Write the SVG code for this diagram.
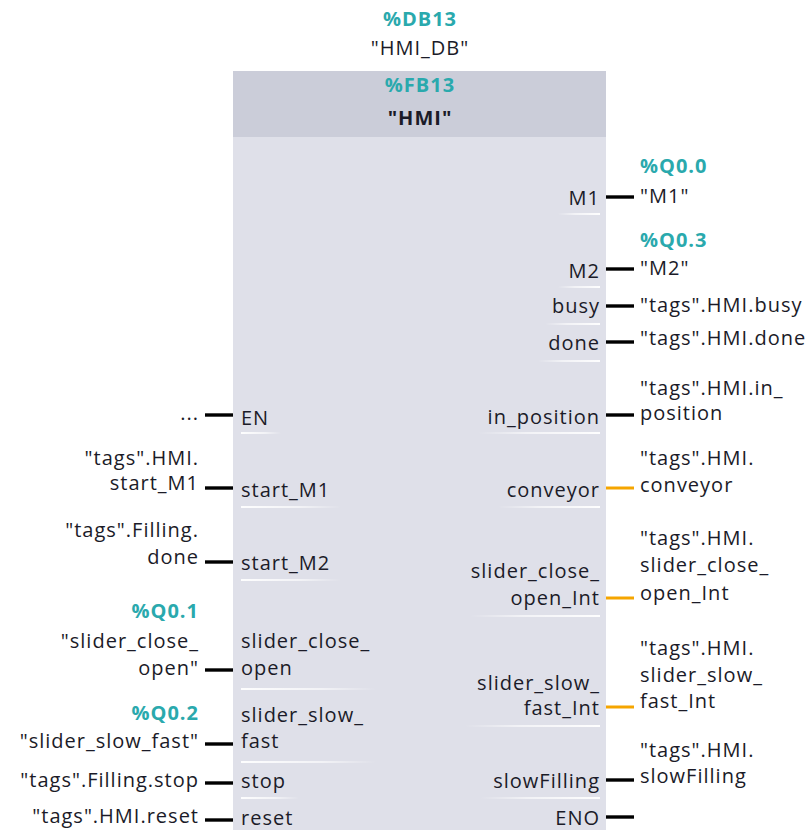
<svg xmlns="http://www.w3.org/2000/svg" width="811" height="830" viewBox="0 0 811 830">
  <defs>
    <linearGradient id="sepL" x1="0" y1="0" x2="1" y2="0">
      <stop offset="0" stop-color="#ffffff" stop-opacity="0.95"/>
      <stop offset="0.6" stop-color="#ffffff" stop-opacity="0.6"/>
      <stop offset="1" stop-color="#ffffff" stop-opacity="0"/>
    </linearGradient>
    <linearGradient id="sepR" x1="1" y1="0" x2="0" y2="0">
      <stop offset="0" stop-color="#ffffff" stop-opacity="0.95"/>
      <stop offset="0.6" stop-color="#ffffff" stop-opacity="0.6"/>
      <stop offset="1" stop-color="#ffffff" stop-opacity="0"/>
    </linearGradient>
    <style>
      text { font-family: "Open Sans", "Noto Sans", "Liberation Sans", sans-serif; font-size: 20px; letter-spacing: 1px; fill: #1b1b28; }
      .addr { fill: #2aa9ad; font-weight: bold; }
      .hdr { text-anchor: middle; }
      .b { font-weight: bold; }
      .end { text-anchor: end; }
      .wire { stroke: #000000; stroke-width: 3.4; fill: none; }
      .wire.o { stroke: #f5a500; stroke-width: 3; }
      .sepL { fill: url(#sepL); }
      .sepR { fill: url(#sepR); }
    </style>
  </defs>

  <rect width="811" height="830" fill="#ffffff"/>

  <!-- instance data block -->
  <g id="instance-db">
    <text class="addr hdr" x="420" y="26">%DB13</text>
    <text class="hdr" x="420" y="55">"HMI_DB"</text>
  </g>

  <!-- function block body -->
  <g id="fb-hmi">
    <rect x="233" y="71" width="373" height="759" fill="#dfe0e9"/>
    <rect x="233" y="71" width="373" height="66" fill="#cbcdd9"/>
    <text class="addr hdr" x="420" y="92">%FB13</text>
    <text class="hdr b" x="420" y="125">"HMI"</text>
  </g>

  <!-- connectors -->
  <g id="wires">
    <line class="wire" x1="205" y1="415" x2="233" y2="415"/>
    <line class="wire" x1="205" y1="488" x2="233" y2="488"/>
    <line class="wire" x1="205" y1="562" x2="233" y2="562"/>
    <line class="wire" x1="205" y1="670" x2="233" y2="670"/>
    <line class="wire" x1="205" y1="744" x2="233" y2="744"/>
    <line class="wire" x1="205" y1="783" x2="233" y2="783"/>
    <line class="wire" x1="205" y1="820" x2="233" y2="820"/>

    <line class="wire" x1="606" y1="197" x2="634" y2="197"/>
    <line class="wire" x1="606" y1="269" x2="634" y2="269"/>
    <line class="wire" x1="606" y1="306" x2="634" y2="306"/>
    <line class="wire" x1="606" y1="342" x2="634" y2="342"/>
    <line class="wire" x1="606" y1="415" x2="634" y2="415" stroke-width="2.6"/>
    <line class="wire o" x1="606" y1="488" x2="634" y2="488"/>
    <line class="wire o" x1="606" y1="598" x2="634" y2="598"/>
    <line class="wire o" x1="606" y1="707" x2="634" y2="707"/>
    <line class="wire" x1="606" y1="780" x2="634" y2="780"/>
    <line class="wire" x1="606" y1="817" x2="634" y2="817"/>
  </g>

  <!-- input pins -->
  <g id="pin-EN">
    <text x="241" y="425">EN</text>
    <rect class="sepL" x="241" y="432" width="40" height="2"/>
    <text class="end" x="199" y="420">...</text>
  </g>
  <g id="pin-start_M1">
    <text x="241" y="497">start_M1</text>
    <rect class="sepL" x="241" y="506" width="100" height="2"/>
    <text class="end" x="199" y="465">"tags".HMI.</text>
    <text class="end" x="199" y="490">start_M1</text>
  </g>
  <g id="pin-start_M2">
    <text x="241" y="570">start_M2</text>
    <rect class="sepL" x="241" y="579" width="100" height="2"/>
    <text class="end" x="199" y="537">"tags".Filling.</text>
    <text class="end" x="199" y="564">done</text>
  </g>
  <g id="pin-slider_close_open">
    <text x="241" y="648">slider_close_</text>
    <text x="241" y="675">open</text>
    <rect class="sepL" x="241" y="688" width="135" height="2"/>
    <text class="addr end" x="199" y="618">%Q0.1</text>
    <text class="end" x="199" y="648">"slider_close_</text>
    <text class="end" x="199" y="675">open"</text>
  </g>
  <g id="pin-slider_slow_fast">
    <text x="241" y="722">slider_slow_</text>
    <text x="241" y="748">fast</text>
    <rect class="sepL" x="241" y="761" width="135" height="2"/>
    <text class="addr end" x="199" y="720">%Q0.2</text>
    <text class="end" x="199" y="748">"slider_slow_fast"</text>
  </g>
  <g id="pin-stop">
    <text x="241" y="788">stop</text>
    <rect class="sepL" x="241" y="797" width="58" height="2"/>
    <text class="end" x="199" y="787">"tags".Filling.stop</text>
  </g>
  <g id="pin-reset">
    <text x="241" y="825">reset</text>
    <text class="end" x="199" y="823">"tags".HMI.reset</text>
  </g>

  <!-- output pins -->
  <g id="pin-M1">
    <text class="end" x="600" y="205">M1</text>
    <rect class="sepR" x="558" y="213" width="42" height="2"/>
    <text class="addr" x="640" y="173">%Q0.0</text>
    <text x="640" y="203">"M1"</text>
  </g>
  <g id="pin-M2">
    <text class="end" x="600" y="278">M2</text>
    <rect class="sepR" x="558" y="286" width="42" height="2"/>
    <text class="addr" x="640" y="247">%Q0.3</text>
    <text x="640" y="275">"M2"</text>
  </g>
  <g id="pin-busy">
    <text class="end" x="600" y="313">busy</text>
    <rect class="sepR" x="545" y="323" width="55" height="2"/>
    <text x="640" y="312">"tags".HMI.busy</text>
  </g>
  <g id="pin-done">
    <text class="end" x="600" y="350">done</text>
    <rect class="sepR" x="538" y="360" width="62" height="2"/>
    <text x="640" y="345">"tags".HMI.done</text>
  </g>
  <g id="pin-in_position">
    <text class="end" x="600" y="424">in_position</text>
    <rect class="sepR" x="478" y="432" width="122" height="2"/>
    <text x="640" y="395">"tags".HMI.in_</text>
    <text x="640" y="420">position</text>
  </g>
  <g id="pin-conveyor">
    <text class="end" x="600" y="497">conveyor</text>
    <rect class="sepR" x="498" y="506" width="102" height="2"/>
    <text x="640" y="465">"tags".HMI.</text>
    <text x="640" y="492">conveyor</text>
  </g>
  <g id="pin-slider_close_open_Int">
    <text class="end" x="600" y="578">slider_close_</text>
    <text class="end" x="600" y="605">open_Int</text>
    <rect class="sepR" x="470" y="615" width="130" height="2"/>
    <text x="640" y="545">"tags".HMI.</text>
    <text x="640" y="572">slider_close_</text>
    <text x="640" y="600">open_Int</text>
  </g>
  <g id="pin-slider_slow_fast_Int">
    <text class="end" x="600" y="690">slider_slow_</text>
    <text class="end" x="600" y="715">fast_Int</text>
    <rect class="sepR" x="465" y="725" width="135" height="2"/>
    <text x="640" y="655">"tags".HMI.</text>
    <text x="640" y="682">slider_slow_</text>
    <text x="640" y="708">fast_Int</text>
  </g>
  <g id="pin-slowFilling">
    <text class="end" x="600" y="788">slowFilling</text>
    <rect class="sepR" x="480" y="797" width="120" height="2"/>
    <text x="640" y="757">"tags".HMI.</text>
    <text x="640" y="783">slowFilling</text>
  </g>
  <g id="pin-ENO">
    <text class="end" x="600" y="825">ENO</text>
  </g>
</svg>
